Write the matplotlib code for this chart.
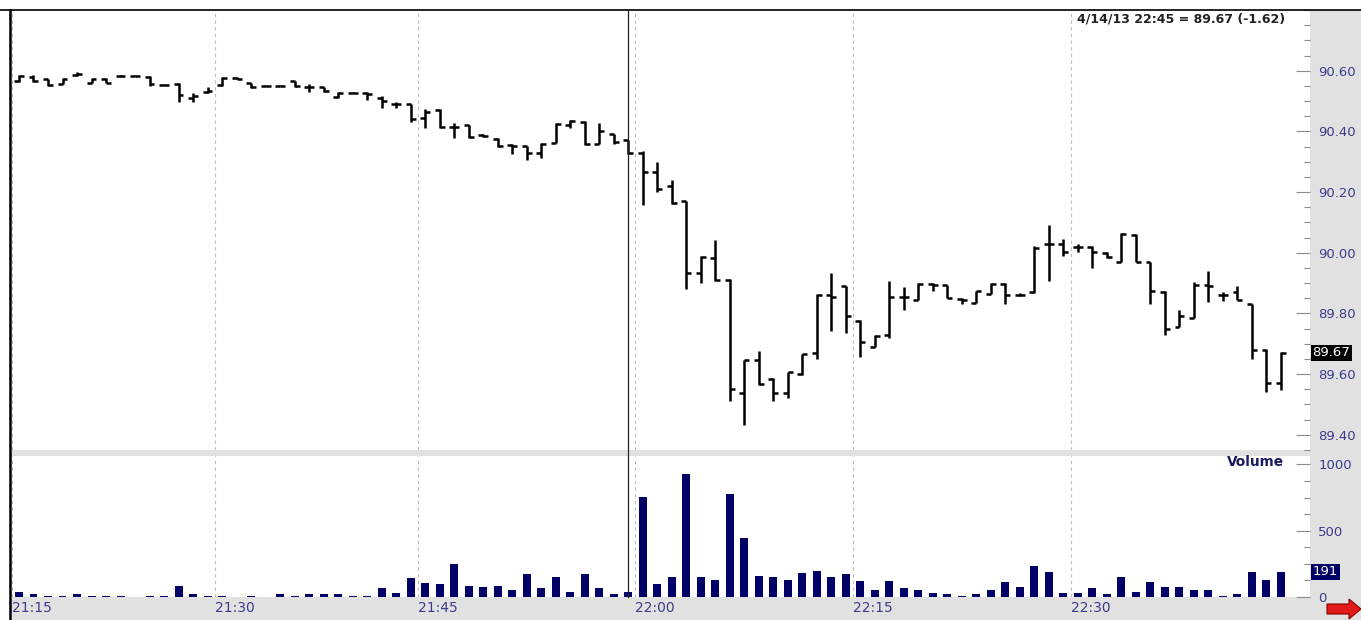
import matplotlib
matplotlib.use("Agg")
import matplotlib.pyplot as plt
import numpy as np
from matplotlib.lines import Line2D
from matplotlib.patches import Rectangle, Polygon
from matplotlib.ticker import MultipleLocator, FixedLocator

# 1-minute bars, 4/14/13 21:15 -> 22:45
opens = [90.565, 90.578, 90.572, 90.556, 90.585, 90.560, 90.573, 90.582, 90.584, 90.580,
         90.554, 90.556, 90.510, 90.530, 90.553, 90.575, 90.560, 90.550, 90.550, 90.565,
         90.545, 90.545, 90.512, 90.528, 90.525, 90.510, 90.490, 90.490, 90.445, 90.472,
         90.415, 90.420, 90.388, 90.375, 90.355, 90.352, 90.330, 90.363, 90.420, 90.432,
         90.360, 90.393, 90.370, 90.330, 90.265, 90.220, 90.169, 89.933, 89.984, 89.910,
         89.537, 89.645, 89.585, 89.537, 89.600, 89.670, 89.860, 89.890, 89.775, 89.690,
         89.730, 89.855, 89.845, 89.896, 89.893, 89.848, 89.835, 89.865, 89.898, 89.860,
         89.870, 90.030, 90.030, 90.020, 90.020, 90.000, 89.970, 90.058, 89.968, 89.871,
         89.755, 89.786, 89.895, 89.862, 89.870, 89.830, 89.680, 89.572]
highs = [90.585, 90.585, 90.574, 90.575, 90.596, 90.575, 90.575, 90.585, 90.586, 90.582,
         90.556, 90.558, 90.528, 90.545, 90.578, 90.578, 90.560, 90.552, 90.552, 90.566,
         90.555, 90.545, 90.530, 90.530, 90.530, 90.515, 90.498, 90.490, 90.475, 90.473,
         90.427, 90.420, 90.392, 90.377, 90.357, 90.352, 90.363, 90.428, 90.437, 90.435,
         90.428, 90.393, 90.372, 90.335, 90.300, 90.240, 90.172, 89.988, 90.042, 89.912,
         89.648, 89.675, 89.588, 89.608, 89.668, 89.865, 89.932, 89.892, 89.778, 89.729,
         89.907, 89.888, 89.900, 89.900, 89.895, 89.852, 89.875, 89.900, 89.900, 89.868,
         90.021, 90.092, 90.045, 90.030, 90.022, 90.002, 90.065, 90.062, 89.970, 89.873,
         89.810, 89.905, 89.940, 89.870, 89.890, 89.832, 89.682, 89.672]
lows = [90.563, 90.562, 90.550, 90.555, 90.582, 90.558, 90.558, 90.580, 90.582, 90.550,
        90.552, 90.498, 90.497, 90.528, 90.550, 90.571, 90.542, 90.548, 90.548, 90.545,
        90.530, 90.530, 90.510, 90.526, 90.505, 90.476, 90.476, 90.432, 90.410, 90.410,
        90.377, 90.377, 90.380, 90.350, 90.327, 90.307, 90.313, 90.363, 90.410, 90.355,
        90.358, 90.360, 90.325, 90.157, 90.200, 90.160, 89.880, 89.900, 89.908, 89.510,
        89.432, 89.565, 89.510, 89.520, 89.598, 89.650, 89.742, 89.735, 89.657, 89.689,
        89.720, 89.810, 89.843, 89.873, 89.852, 89.830, 89.833, 89.863, 89.830, 89.858,
        89.868, 89.908, 89.988, 90.004, 89.950, 89.983, 89.968, 89.970, 89.831, 89.729,
        89.755, 89.784, 89.838, 89.840, 89.845, 89.650, 89.542, 89.547]
closes = [90.582, 90.566, 90.553, 90.573, 90.588, 90.572, 90.560, 90.582, 90.584, 90.555,
          90.553, 90.520, 90.515, 90.532, 90.575, 90.572, 90.545, 90.550, 90.550, 90.550,
          90.545, 90.532, 90.528, 90.528, 90.522, 90.500, 90.490, 90.440, 90.465, 90.413,
          90.415, 90.380, 90.386, 90.352, 90.352, 90.330, 90.360, 90.425, 90.434, 90.358,
          90.400, 90.365, 90.330, 90.266, 90.210, 90.163, 89.932, 89.987, 89.910, 89.552,
          89.645, 89.568, 89.537, 89.606, 89.665, 89.862, 89.855, 89.790, 89.705, 89.727,
          89.855, 89.855, 89.896, 89.895, 89.852, 89.845, 89.873, 89.898, 89.862, 89.862,
          90.016, 90.030, 90.004, 90.018, 90.004, 89.985, 90.062, 89.970, 89.873, 89.750,
          89.790, 89.895, 89.890, 89.860, 89.845, 89.680, 89.572, 89.670]
volume = [38, 20, 10, 10, 20, 10, 10, 10, 0, 10,
          10, 85, 20, 10, 10, 0, 10, 0, 20, 10,
          20, 20, 20, 10, 10, 65, 32, 141, 108, 96,
          249, 85, 73, 85, 53, 174, 65, 149, 40, 174,
          65, 20, 40, 752, 96, 149, 928, 149, 128, 775,
          448, 161, 149, 128, 184, 194, 149, 174, 118, 53,
          118, 65, 53, 32, 20, 10, 20, 53, 116, 73,
          236, 191, 32, 32, 65, 20, 149, 40, 116, 73,
          73, 53, 53, 10, 20, 185, 128, 191]

time_labels = ["21:15", "21:30", "21:45", "22:00", "22:15", "22:30"]
time_pos = [-0.5, 13.5, 27.5, 42.5, 57.5, 72.5]
cursor_bar = 42
header = "4/14/13 22:45 = 89.67 (-1.62)"

W, H = 1361, 620
idx = np.arange(len(opens))
navy = "#000066"
lblc = "#3c3c8c"
gray = "#e1e1e1"

fig = plt.figure(figsize=(W / 100, H / 100), dpi=100, facecolor=gray)
ax1 = fig.add_axes([10 / W, 1 - 450 / H, 1300 / W, 440 / H])
ax2 = fig.add_axes([10 / W, 1 - 597 / H, 1300 / W, 141 / H], sharex=ax1)

# price bars
lw = 1.8
ax1.vlines(idx, lows, highs, color="black", lw=lw)
ax1.hlines(opens, idx - 0.34, idx, color="black", lw=lw)
ax1.hlines(closes, idx, idx + 0.34, color="black", lw=lw)

# volume bars
ax2.bar(idx, volume, width=0.55, color=navy)

ax1.set_xlim(-0.62, 89.0)
ax1.set_ylim(89.35, 90.80)
ax2.set_ylim(0, 1064)

for ax in (ax1, ax2):
    ax.set_facecolor("white")
    for s in ax.spines.values():
        s.set_visible(False)
    ax.set_xticks(time_pos)
    ax.grid(axis="x", ls=(0, (3, 3)), color="#bdbdbd", lw=0.8)
    ax.yaxis.tick_right()
    ax.tick_params(axis="y", which="major", direction="in", length=10, width=0.8,
                   color="#8a8a8a", labelcolor=lblc, labelsize=9.5, pad=6)
    ax.tick_params(axis="y", which="minor", direction="in", length=4, width=0.8,
                   color="#8a8a8a")
    ax.tick_params(axis="x", length=0)

ax1.tick_params(axis="x", labelbottom=False)
ax1.yaxis.set_major_locator(FixedLocator(np.arange(89.4, 90.61, 0.2)))
ax1.yaxis.set_minor_locator(MultipleLocator(0.05))
ax1.yaxis.set_major_formatter(lambda v, p: "%.2f" % v)

ax2.set_yticks([0, 500, 1000])
ax2.yaxis.set_minor_locator(MultipleLocator(125))
ax2.set_xticklabels(time_labels)
ax2.tick_params(axis="x", labelsize=10, labelcolor=lblc, pad=3)
for t in ax2.get_xticklabels():
    t.set_ha("left")

# last value boxes
yt = ax1.get_yaxis_transform()
ax1.text(1.002, closes[-1], "%.2f" % closes[-1], transform=yt, ha="left", va="center",
         color="white", fontsize=9.5, bbox=dict(boxstyle="square,pad=0.12", fc="black", ec="none"),
         clip_on=False)
ax2.text(1.002, volume[-1], str(volume[-1]), transform=ax2.get_yaxis_transform(), ha="left",
         va="center", color="white", fontsize=9.5,
         bbox=dict(boxstyle="square,pad=0.12", fc=navy, ec="none"), clip_on=False)
ax2.text(87.2, 1015, "Volume", ha="right", va="center", color="#1a1a5e",
         fontsize=9.8, fontweight="bold")

# header
fig.text(1077 / W, 1 - 19 / H, header, ha="left", va="center", fontsize=9,
         fontweight="bold", color="#222222")

# frame pieces
fig.patches.append(Rectangle((0, 1 - 10 / H), 1, 10 / H, transform=fig.transFigure,
                             fc="white", ec="none", zorder=0))
fig.patches.append(Rectangle((0, 0), 9 / W, 1 - 10 / H, transform=fig.transFigure,
                             fc="white", ec="none", zorder=0))
fig.lines.append(Line2D([0, 1], [1 - 10 / H] * 2, transform=fig.transFigure,
                        color="black", lw=1.2))
fig.lines.append(Line2D([9.5 / W] * 2, [0, 1 - 10 / H], transform=fig.transFigure,
                        color="black", lw=1.8))

# cursor line across both panes
xf = fig.transFigure.inverted().transform(ax1.transData.transform((cursor_bar, 90)))[0]
fig.lines.append(Line2D([xf, xf], [1 - 597 / H, 1 - 10 / H], transform=fig.transFigure,
                        color="#222222", lw=0.9))

# red arrow bottom right
arrow = [(1327, 604), (1349, 604), (1349, 599), (1361, 609), (1349, 619), (1349, 614), (1327, 614)]
fig.patches.append(Polygon([(x / W, 1 - y / H) for x, y in arrow], closed=True,
                           transform=fig.transFigure, fc="#e31a1a", ec="#8a0000", lw=0.8))

fig.savefig("out.png", dpi=100, facecolor=fig.get_facecolor())
